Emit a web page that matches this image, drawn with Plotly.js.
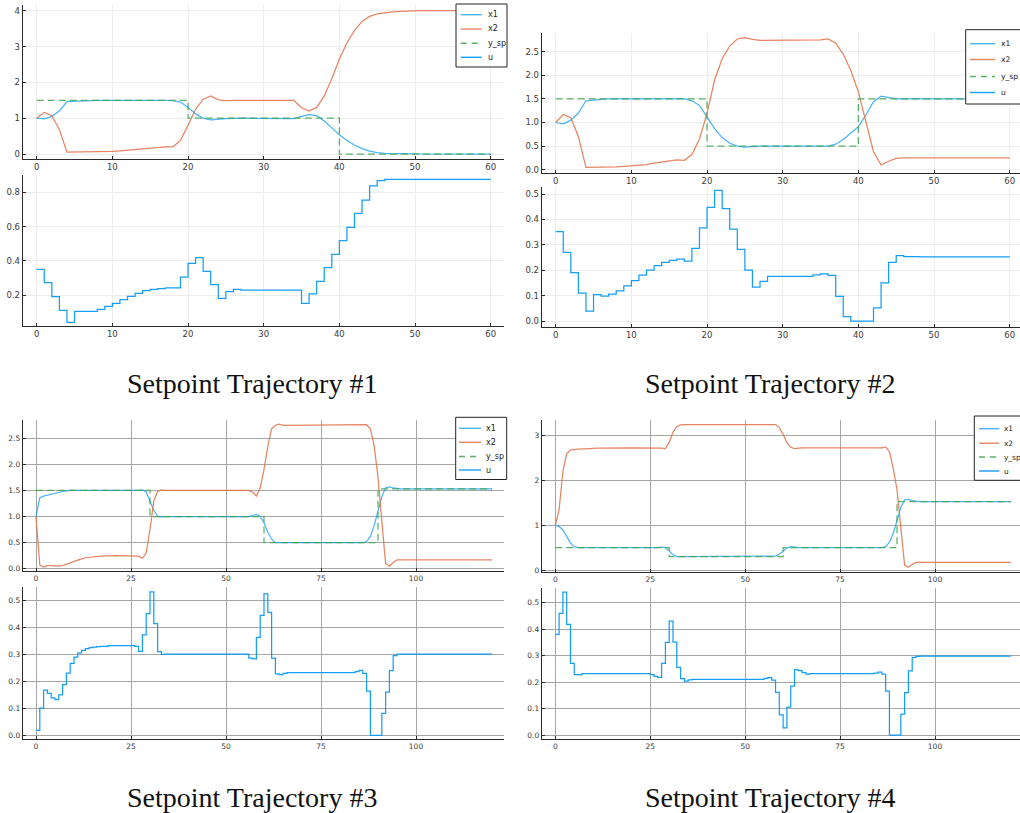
<!DOCTYPE html>
<html>
<head>
<meta charset="utf-8">
<script src="https://cdn.plot.ly/plotly-3.0.1.min.js"></script>
<style>
html,body{margin:0;padding:0;background:#fff;}
#chart{width:1020px;height:813px;}
</style>
</head>
<body>
<div id="chart"></div>
<script>
// ---------------- DATA ----------------
const seriesNames = ['x1', 'x2', 'y_sp', 'u'];
const captions = ['Setpoint Trajectory #1', 'Setpoint Trajectory #2', 'Setpoint Trajectory #3', 'Setpoint Trajectory #4'];

// Trajectory #1
const p1_x1_t = [0,1,2,3,4,5,6,7,8,17,18,19,20,21,22,23,24,25,27,31,32,34,35,36,37,38,39,40,41,42,43,44,45,46,48,51,60];
const p1_x1   = [1.0,0.98,1.05,1.2,1.46,1.47,1.48,1.49,1.5,1.5,1.49,1.45,1.3,1.12,1.0,0.95,0.97,0.99,1.0,1.0,0.99,0.99,1.05,1.1,1.07,0.92,0.73,0.54,0.38,0.25,0.15,0.08,0.04,0.02,0.01,0.0,0.0];
const p1_x2_t = [0,1,2,3,4,8,9,10,11,12,13,14,15,16,17,18,19,20,21,22,23,24,25,26,34,35,36,37,38,39,40,41,42,43,44,45,46,47,48,49,51,60];
const p1_x2   = [1.0,1.16,1.07,0.68,0.05,0.05,0.06,0.07,0.09,0.11,0.13,0.15,0.17,0.19,0.2,0.2,0.38,0.8,1.25,1.53,1.62,1.51,1.49,1.5,1.5,1.29,1.2,1.3,1.62,2.1,2.65,3.1,3.45,3.7,3.84,3.91,3.95,3.97,3.98,3.99,4.0,4.0];
const p1_sp_t = [0,20,40,60];
const p1_sp   = [1.5,1.0,0.0,0.0];
const p1_u_t  = [0,1,2,3,4,5,8,9,10,11,12,13,14,15,16,17,19,20,21,22,23,24,25,26,27,35,36,37,38,39,40,41,42,43,44,45,46,60];
const p1_u    = [0.35,0.272,0.19,0.11,0.04,0.105,0.116,0.133,0.151,0.173,0.192,0.21,0.225,0.233,0.237,0.241,0.305,0.385,0.418,0.338,0.26,0.18,0.22,0.233,0.229,0.151,0.206,0.28,0.36,0.438,0.518,0.595,0.677,0.755,0.837,0.868,0.876,0.876];

// Trajectory #2
const p2_x1_t = [0,1,2,3,4,5,6,7,17,18,19,20,21,22,23,24,25,26,27,36,37,38,39,40,41,42,43,44,45,60];
const p2_x1   = [1.0,0.97,1.05,1.2,1.46,1.48,1.49,1.5,1.5,1.46,1.36,1.12,0.87,0.68,0.56,0.5,0.48,0.49,0.5,0.5,0.54,0.64,0.77,0.91,1.16,1.44,1.56,1.53,1.5,1.5];
const p2_x2_t = [0,1,2,3,4,7,8,9,10,11,12,13,14,15,16,17,18,19,20,21,22,23,24,25,26,27,35,36,37,38,39,40,41,42,43,44,45,46,60];
const p2_x2   = [1.0,1.17,1.1,0.7,0.05,0.05,0.06,0.07,0.08,0.09,0.11,0.14,0.16,0.19,0.21,0.2,0.32,0.65,1.2,1.9,2.35,2.62,2.77,2.8,2.76,2.74,2.75,2.77,2.68,2.45,2.1,1.65,1.02,0.38,0.1,0.18,0.24,0.25,0.25];
const p2_sp_t = [0,20,40,60];
const p2_sp   = [1.5,0.5,1.5,1.5];
const p2_u_t  = [0,1,2,3,4,5,6,7,8,9,10,11,12,13,14,15,16,17,18,19,20,21,22,23,24,25,26,27,28,34,35,36,37,38,39,42,43,44,45,46,48,60];
const p2_u    = [0.352,0.27,0.19,0.11,0.039,0.104,0.098,0.106,0.119,0.138,0.159,0.181,0.2,0.218,0.231,0.239,0.244,0.236,0.286,0.367,0.447,0.514,0.442,0.362,0.282,0.2,0.133,0.156,0.176,0.182,0.186,0.18,0.097,0.017,0.0,0.052,0.15,0.231,0.257,0.253,0.252,0.252];

// Trajectory #3
const p3_x1_t = [0,1,2,3,4,5,6,7,8,9,27,28,29,30,31,32,33,34,56,57,58,59,60,61,62,63,86,87,88,89,90,91,92,93,94,95,96,120];
const p3_x1   = [1.0,1.36,1.39,1.41,1.43,1.45,1.47,1.48,1.49,1.5,1.5,1.51,1.47,1.3,1.12,1.01,0.99,1.0,1.0,1.02,1.04,1.0,0.88,0.7,0.57,0.5,0.5,0.52,0.62,0.83,1.1,1.38,1.55,1.57,1.55,1.54,1.53,1.53];
const p3_x2_t = [0,1,2,3,4,5,6,7,8,9,10,11,12,13,14,15,17,21,26,27,28,29,30,31,32,33,34,56,57,58,59,60,61,62,63,64,65,86,87,88,89,90,91,92,93,94,95,120];
const p3_x2   = [1.0,0.07,0.03,0.06,0.06,0.05,0.05,0.06,0.08,0.11,0.14,0.17,0.19,0.21,0.22,0.23,0.24,0.25,0.25,0.24,0.2,0.3,0.75,1.3,1.48,1.51,1.5,1.5,1.47,1.39,1.55,1.9,2.35,2.68,2.75,2.77,2.75,2.75,2.76,2.68,2.35,1.75,0.9,0.1,0.05,0.12,0.17,0.17];
const p3_sp_t = [0,30,60,90,120];
const p3_sp   = [1.5,1.0,0.5,1.53,1.53];
const p3_u_t  = [0,1,2,3,4,5,6,7,8,9,10,11,12,13,14,15,16,17,19,26,27,28,29,30,31,32,33,34,56,57,58,59,60,61,62,63,64,65,66,84,85,86,87,88,91,92,93,94,95,120];
const p3_u    = [0.018,0.1,0.167,0.155,0.138,0.132,0.149,0.187,0.23,0.266,0.289,0.305,0.314,0.32,0.324,0.326,0.328,0.329,0.331,0.329,0.31,0.371,0.45,0.53,0.413,0.309,0.299,0.3,0.285,0.282,0.362,0.443,0.523,0.454,0.285,0.227,0.224,0.229,0.232,0.235,0.24,0.229,0.163,0.0,0.081,0.16,0.239,0.294,0.3,0.3];

// Trajectory #4
const p4_x1_t = [0,1,2,3,4,5,6,27,28,29,30,31,32,33,57,58,59,60,61,62,63,64,86,87,88,89,90,91,92,93,94,95,96,120];
const p4_x1   = [1.0,0.97,0.9,0.76,0.6,0.52,0.5,0.5,0.51,0.5,0.43,0.34,0.3,0.3,0.3,0.31,0.35,0.43,0.49,0.52,0.51,0.5,0.5,0.52,0.62,0.82,1.1,1.4,1.57,1.58,1.55,1.54,1.53,1.53];
const p4_x2_t = [0,1,2,3,4,5,6,9,11,21,27,28,29,30,31,32,33,34,58,59,60,61,62,63,64,65,86,87,88,89,90,91,92,93,94,95,120];
const p4_x2   = [1.0,1.35,2.2,2.6,2.68,2.69,2.7,2.71,2.72,2.73,2.73,2.72,2.71,2.85,3.08,3.2,3.24,3.25,3.25,3.18,3.03,2.85,2.74,2.71,2.72,2.73,2.73,2.75,2.64,2.27,1.79,0.97,0.11,0.06,0.13,0.17,0.17];
const p4_sp_t = [0,30,60,90,120];
const p4_sp   = [0.5,0.3,0.5,1.53,1.53];
const p4_u_t  = [0,1,2,3,4,5,6,7,25,26,27,28,29,30,31,32,33,34,35,36,55,56,57,58,59,60,61,62,63,64,65,66,67,84,85,86,87,88,91,92,93,94,95,96,120];
const p4_u    = [0.38,0.46,0.54,0.418,0.271,0.228,0.227,0.232,0.228,0.222,0.218,0.271,0.35,0.43,0.351,0.256,0.213,0.204,0.208,0.21,0.214,0.217,0.207,0.161,0.076,0.027,0.105,0.185,0.247,0.243,0.236,0.23,0.232,0.234,0.238,0.23,0.166,0.0,0.079,0.16,0.242,0.293,0.297,0.298,0.298];

// Tick values
const ticksX60  = [0,10,20,30,40,50,60];
const ticksX120 = [0,25,50,75,100];
const ticksY1t = [0,1,2,3,4];
const ticksY1b = [0.2,0.4,0.6,0.8];
const ticksY2t = [0,0.5,1,1.5,2,2.5];
const ticksYu  = [0,0.1,0.2,0.3,0.4,0.5];
const ticksY4t = [0,1,2,3];

// ---------------- STYLE / LAYOUT ----------------
const W = 1020, H = 813;
const colors = {x1:'rgba(0,154,250,0.72)', x2:'rgba(227,111,71,0.85)', y_sp:'rgba(62,164,78,0.85)', u:'rgba(0,150,245,0.92)'};
const LW = 1.25;
const DASH = '7px,4px';

function lin(p0, v0, p1, v1, p) { return v0 + (p - p0) * (v1 - v0) / (p1 - p0); }

// pixel geometry of each sub-plot: [L, R, T, B], x calibration, y calibration
const geo = [
  {box:[22.7,503.5,5,159],     xc:[36.7,0,490.7,60], yc:[154,0,10.7,4],       xt:ticksX60,  yt:ticksY1t, yf:'d',   sty:'light'},
  {box:[22.7,503.5,175,326],   xc:[36.7,0,490.7,60], yc:[192.3,0.8,295,0.2],  xt:ticksX60,  yt:ticksY1b, yf:'.1f', sty:'light'},
  {box:[541.7,1020,33,173],    xc:[555.7,0,1009.7,60], yc:[51.7,2.5,169.7,0], xt:ticksX60,  yt:ticksY2t, yf:'.1f', sty:'light'},
  {box:[541.7,1020,186.5,326.5], xc:[555.7,0,1009.7,60], yc:[194,0.5,321,0],  xt:ticksX60,  yt:ticksYu,  yf:'.1f', sty:'light'},
  {box:[22.7,503.6,420,571.3], xc:[36,0,416,100], yc:[438.3,2.5,568.7,0],     xt:ticksX120, yt:ticksY2t, yf:'.1f', sty:'dark'},
  {box:[22.7,503.6,587,739.3], xc:[36,0,416,100], yc:[600,0.5,735.3,0],       xt:ticksX120, yt:ticksYu,  yf:'.1f', sty:'dark'},
  {box:[541.7,1020,420,572],   xc:[555.3,0,935,100], yc:[435.7,3,570,0],      xt:ticksX120, yt:ticksY4t, yf:'d',   sty:'dark'},
  {box:[541.7,1020,588,739.3], xc:[555.3,0,935,100], yc:[602.7,0.5,735,0],    xt:ticksX120, yt:ticksYu,  yf:'.1f', sty:'dark'}
];

const layout = {
  width: W, height: H,
  margin: {l:0, r:0, t:0, b:0, pad:0},
  paper_bgcolor: '#ffffff', plot_bgcolor: '#ffffff',
  showlegend: false,
  shapes: [], annotations: []
};

geo.forEach((g, i) => {
  const [L, R, T, B] = g.box;
  const light = g.sty === 'light';
  const base = {
    showline: true, linecolor: '#2a2a2a', linewidth: 1,
    ticks: 'inside', ticklen: 3, tickwidth: 1, tickcolor: '#2a2a2a',
    showgrid: true, gridcolor: light ? '#ececec' : '#a6a6a6', gridwidth: 1,
    zeroline: false, fixedrange: true,
    tickfont: {family: 'DejaVu Sans, sans-serif', size: light ? 8.5 : 7.5, color: '#3a3a3a'}
  };
  const n = i === 0 ? '' : String(i + 1);
  layout['xaxis' + n] = Object.assign({}, base, {
    domain: [L / W, Math.min(1, R / W)],
    range: [lin(g.xc[0], g.xc[1], g.xc[2], g.xc[3], L), lin(g.xc[0], g.xc[1], g.xc[2], g.xc[3], R)],
    tickmode: 'array', tickvals: g.xt, ticktext: g.xt.map(v => String(v)),
    anchor: 'y' + n
  });
  layout['yaxis' + n] = Object.assign({}, base, {
    domain: [1 - B / H, 1 - T / H],
    range: [lin(g.yc[0], g.yc[1], g.yc[2], g.yc[3], B), lin(g.yc[0], g.yc[1], g.yc[2], g.yc[3], T)],
    tickmode: 'array', tickvals: g.yt,
    ticktext: g.yt.map(v => g.yf === 'd' ? String(v) : v.toFixed(1)),
    anchor: 'x' + n
  });
});

// ---------------- TRACES ----------------
const traces = [];
function line(x, y, name, ax, extra) {
  const n = ax === 0 ? '' : String(ax + 1);
  traces.push(Object.assign({
    type: 'scatter', mode: 'lines', x: x, y: y, name: name,
    xaxis: 'x' + n, yaxis: 'y' + n,
    line: {color: colors[name], width: LW}, hoverinfo: 'skip'
  }, extra || {}));
}
const panels = [
  [p1_x1_t, p1_x1, p1_x2_t, p1_x2, p1_sp_t, p1_sp, p1_u_t, p1_u],
  [p2_x1_t, p2_x1, p2_x2_t, p2_x2, p2_sp_t, p2_sp, p2_u_t, p2_u],
  [p3_x1_t, p3_x1, p3_x2_t, p3_x2, p3_sp_t, p3_sp, p3_u_t, p3_u],
  [p4_x1_t, p4_x1, p4_x2_t, p4_x2, p4_sp_t, p4_sp, p4_u_t, p4_u]
];
panels.forEach((p, k) => {
  const top = 2 * k, bot = 2 * k + 1;
  line(p[0], p[1], 'x1', top);
  line(p[2], p[3], 'x2', top);
  line(p[4], p[5], 'y_sp', top, {line: {color: colors.y_sp, width: LW, dash: DASH, shape: 'hv'}});
  line(p[6], p[7], 'u', bot, {line: {color: colors.u, width: LW, shape: 'hv'}});
});

// ---------------- LEGEND BOXES (one per panel) ----------------
const legendGeo = [
  {box:[456,507,4,67],       rows:[14.7,29,43.3,57.3],  lx:[460.7,481.7], tx:485.7, fs:8},
  {box:[965.7,1030,29.7,104], rows:[43.7,59.5,76.5,92.5], lx:[970,995],   tx:998.5, fs:7.6},
  {box:[455.7,506.7,417.3,479.5], rows:[428.3,442.3,456.5,470], lx:[459,481], tx:484.3, fs:8},
  {box:[974.3,1030,416,480.3], rows:[428.7,443.2,457,471], lx:[979,999.3], tx:1001.5, fs:7.4}
];
legendGeo.forEach(lg => {
  const [L, R, T, B] = lg.box;
  layout.shapes.push({type:'rect', xref:'paper', yref:'paper', x0:L/W, x1:R/W, y0:1-B/H, y1:1-T/H,
    line:{color:'#222', width:1}, fillcolor:'#ffffff', layer:'above'});
  seriesNames.forEach((nm, j) => {
    const yy = 1 - lg.rows[j] / H;
    layout.shapes.push({type:'line', xref:'paper', yref:'paper', x0:lg.lx[0]/W, x1:lg.lx[1]/W, y0:yy, y1:yy,
      line:{color:colors[nm], width:1.4, dash: nm === 'y_sp' ? '6px,5px' : 'solid'}, layer:'above'});
    layout.annotations.push({xref:'paper', yref:'paper', x:lg.tx/W, y:yy, text:nm, showarrow:false,
      xanchor:'left', yanchor:'middle', font:{family:'DejaVu Sans, sans-serif', size:lg.fs, color:'#222'}});
  });
});

// ---------------- CAPTIONS ----------------
const capPos = [[251.5,383],[770,383],[251.5,797],[770,797]];
captions.forEach((c, i) => {
  layout.annotations.push({xref:'paper', yref:'paper', x:capPos[i][0]/W, y:1-capPos[i][1]/H, text:c,
    showarrow:false, xanchor:'center', yanchor:'middle',
    font:{family:'Liberation Serif, DejaVu Serif, serif', size:28, color:'#111'}});
});

Plotly.newPlot('chart', traces, layout, {displayModeBar:false, staticPlot:true});
</script>
</body>
</html>
